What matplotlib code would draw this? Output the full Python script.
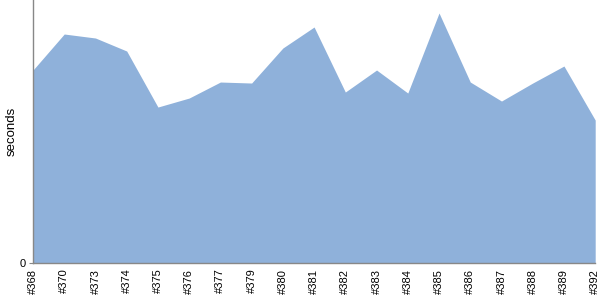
import numpy as np
from matplotlib import pyplot as plt

plt.rcParams['font.family'] = ['Liberation Sans', 'DejaVu Sans']

builds = ['#368', '#370', '#373', '#374', '#375', '#376', '#377', '#379', '#380', '#381',
          '#382', '#383', '#384', '#385', '#386', '#387', '#388', '#389', '#392']
seconds = [193, 229, 225, 212, 156, 165, 181, 180, 215, 236,
           171, 193, 170, 250, 181, 162, 180, 197, 143]

fig = plt.figure(figsize=(6, 3), dpi=100)
ax = fig.add_axes([0.055, 0.123, 0.937, 0.877])

x = np.arange(len(builds))
ax.fill_between(x, 0, seconds, color='#8fb1da', linewidth=0)

ax.set_xlim(0, len(builds) - 1)
ax.set_ylim(0, 263)
ax.set_xticks(x)
ax.set_xticklabels(builds, rotation=90, fontsize=8)
ax.set_yticks([0])
ax.set_yticklabels(['0'], fontsize=8)
ax.tick_params(axis='x', length=0, pad=4)
ax.tick_params(axis='y', length=3, color='#888888', pad=2)
ax.set_ylabel('seconds', fontsize=9.5)
ax.yaxis.set_label_coords(-0.028, 0.5)

for side in ['top', 'right']:
    ax.spines[side].set_visible(False)
for side in ['left', 'bottom']:
    ax.spines[side].set_color('#888888')
    ax.spines[side].set_linewidth(1)

plt.savefig('out.png', dpi=100)
